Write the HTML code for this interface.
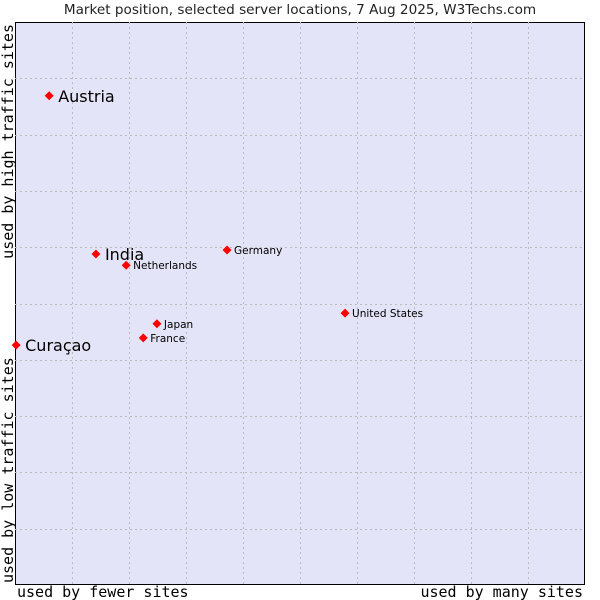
<!DOCTYPE html>
<html><head><meta charset="utf-8"><style>
body{margin:0;background:#fff;}
svg{display:block;font-family:"DejaVu Sans","Liberation Sans",sans-serif;}
</style></head><body>
<svg id="chart" width="600" height="600">
<text x="300" y="14" text-anchor="middle" font-size="13.6" fill="#222">Market position, selected server locations, 7 Aug 2025, W3Techs.com</text>
<rect x="15.5" y="22.5" width="569" height="562" fill="#e4e4f8" stroke="#000"/>
<g id="grid"></g>
<g id="points"></g>
<text x="17" y="597" font-family="DejaVu Sans Mono,Liberation Mono,monospace" font-size="15" fill="#000">used by fewer sites</text>
<text x="583" y="597" text-anchor="end" font-family="DejaVu Sans Mono,Liberation Mono,monospace" font-size="15" fill="#000">used by many sites</text>
<text transform="translate(13,583) rotate(-90)" font-family="DejaVu Sans Mono,Liberation Mono,monospace" font-size="15" fill="#000">used by low traffic sites</text>
<text transform="translate(13,24) rotate(-90)" text-anchor="end" font-family="DejaVu Sans Mono,Liberation Mono,monospace" font-size="15" fill="#000">used by high traffic sites</text>
</svg>
<script>
const names=["Austria","India","Netherlands","Germany","United States","Japan","France","Curaçao"];
const xValues=[6.0,14.2,19.5,37.2,57.9,24.9,22.5,0.2];
const yValues=[86.9,58.8,56.8,59.5,48.3,46.4,43.9,42.6];
const bigLabel=[true,true,false,false,false,false,false,true];
const NS="http://www.w3.org/2000/svg";
const L=15,R=585,T=22,B=585;
const sx=v=>L+v/100*(R-L);
const sy=v=>B-v/100*(B-T);
const grid=document.getElementById('grid');
for(let i=1;i<10;i++){
  const x=Math.round(sx(i*10))+0.5, y=Math.round(sy(i*10))+0.5;
  const lv=document.createElementNS(NS,'line');
  
  
  lv.setAttribute('x1',x);lv.setAttribute('x2',x);lv.setAttribute('y1',T);lv.setAttribute('y2',B);
  lv.setAttribute('stroke','#bbbbbb');lv.setAttribute('stroke-dasharray','2,3');
  grid.appendChild(lv);
  const lh=document.createElementNS(NS,'line');
  
  
  lh.setAttribute('x1',L);lh.setAttribute('x2',R);lh.setAttribute('y1',y);lh.setAttribute('y2',y);
  lh.setAttribute('stroke','#bbbbbb');lh.setAttribute('stroke-dasharray','2,3');
  grid.appendChild(lh);
}
const pts=document.getElementById('points');
names.forEach((n,i)=>{
  const x=sx(xValues[i]), y=sy(yValues[i]);
  const c=document.createElementNS(NS,'path');
  
  
  c.setAttribute('d','M'+x+' '+(y-4.5)+'L'+(x+4.5)+' '+y+'L'+x+' '+(y+4.5)+'L'+(x-4.5)+' '+y+'Z');
  c.setAttribute('fill','#ff0000');
  pts.appendChild(c);
  const t=document.createElementNS(NS,'text');
  
  
  const big=bigLabel[i];
  t.setAttribute('x',x+(big?9:7));t.setAttribute('y',y+(big?6:4));
  t.setAttribute('font-size',big?16:10.5);t.setAttribute('fill','#000');
  t.textContent=n;
  pts.appendChild(t);
});
</script>
</body></html>
